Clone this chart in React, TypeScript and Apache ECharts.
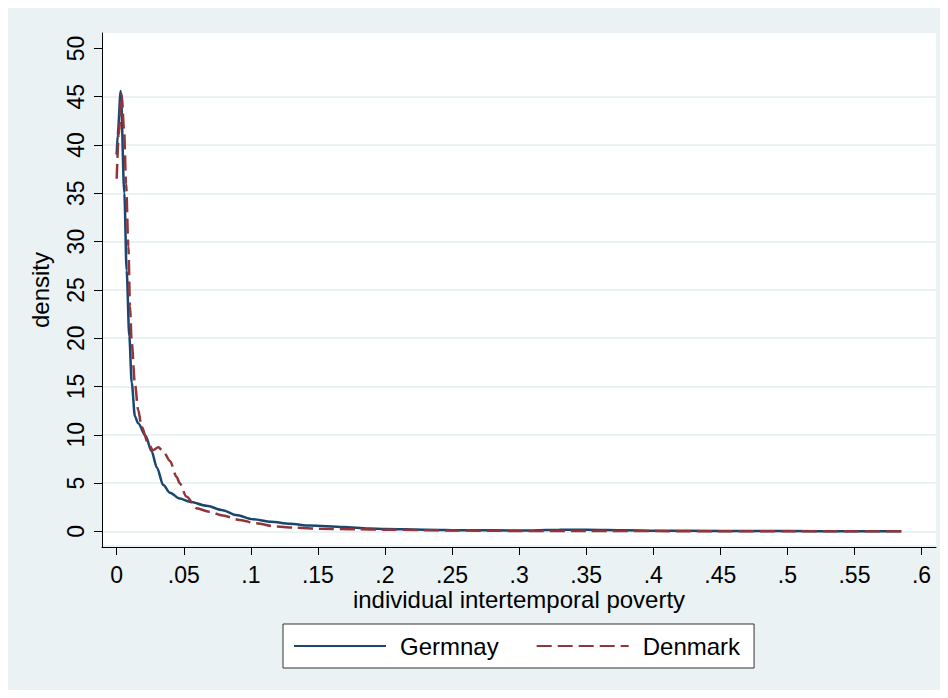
import React, { useEffect, useRef } from "react";
import * as echarts from "echarts";

const germanyX = [0, 0.0007, 0.003, 0.0057, 0.0074, 0.0094, 0.0112, 0.0136, 0.016, 0.0215, 0.026, 0.03, 0.0347, 0.0397, 0.047, 0.0545, 0.067, 0.079, 0.089, 0.1016, 0.115, 0.129, 0.144, 0.169, 0.188, 0.2, 0.23, 0.26, 0.3, 0.33, 0.35, 0.38, 0.4, 0.45, 0.5, 0.55, 0.585];
const germanyY = [39, 41, 45.6, 35, 27, 20.2, 15.4, 11.9, 11.2, 9.9, 8.3, 6.6, 4.8, 4.0, 3.4, 3.07, 2.65, 2.2, 1.7, 1.25, 1.0, 0.8, 0.6, 0.45, 0.3, 0.25, 0.18, 0.12, 0.1, 0.16, 0.17, 0.12, 0.08, 0.05, 0.03, 0.02, 0.02];

const denmarkX = [0, 0.0015, 0.0037, 0.0055, 0.007, 0.0087, 0.0099, 0.0112, 0.0136, 0.016, 0.0186, 0.0235, 0.027, 0.031, 0.0347, 0.0397, 0.0446, 0.047, 0.052, 0.0595, 0.069, 0.079, 0.0917, 0.104, 0.119, 0.134, 0.151, 0.179, 0.2, 0.25, 0.3, 0.35, 0.4, 0.45, 0.5, 0.55, 0.585];
const denmarkY = [36.5, 41, 45.3, 41.5, 36, 29.5, 23.3, 19.5, 15.3, 12.6, 10.8, 9.1, 8.4, 8.7, 8.3, 7.3, 5.66, 4.98, 3.6, 2.39, 2.04, 1.65, 1.18, 0.84, 0.5, 0.38, 0.28, 0.22, 0.18, 0.1, 0.05, 0.04, 0.03, 0.02, 0.02, 0.02, 0.02];

const xTickValues = [0, 0.05, 0.1, 0.15, 0.2, 0.25, 0.3, 0.35, 0.4, 0.45, 0.5, 0.55, 0.6];
const xTickLabels = ["0", ".05", ".1", ".15", ".2", ".25", ".3", ".35", ".4", ".45", ".5", ".55", ".6"];
const yTickValues = [0, 5, 10, 15, 20, 25, 30, 35, 40, 45, 50];
const seriesNames = ["Germnay", "Denmark"];

const FONT = "'Liberation Sans', Arial, sans-serif";
const BG = "#eaf2f3";

// plot frame (px inside the chart div)
const FRAME = { left: 94, right: 928, top: 25, bottom: 539 };
// pixel positions of the data range ends
const X0 = 108.7, X1 = 913.5; // x = 0 and x = 0.6
const Y0 = 523.4, Y1 = 40.4; // y = 0 and y = 50

export default function App() {
  const ref = useRef<HTMLDivElement>(null);
  useEffect(() => {
    if (!ref.current) return;
    const chart = echarts.init(ref.current, null, { renderer: "svg" });
    const zip = (xs: number[], ys: number[]) => xs.map((x, i) => [x, ys[i]]);
    const xs = (X1 - X0) / 0.6;
    const ys = (Y0 - Y1) / 50;
    const xMin = -(X0 - FRAME.left) / xs;
    const xMax = 0.6 + (FRAME.right - X1) / xs;
    const yMax = 50 + (Y1 - FRAME.top) / ys;
    const yMin = -(FRAME.bottom - Y0) / ys;
    const tickStyle = { color: "#000", width: 1 };
    chart.setOption({
      animation: false,
      backgroundColor: BG,
      textStyle: { fontFamily: FONT },
      graphic: [
        {
          type: "rect",
          z: -10,
          silent: true,
          shape: { x: 94, y: 25, width: 834, height: 512 },
          style: { fill: "#ffffff" },
        },
      ],
      grid: [
        {
          left: FRAME.left,
          right: 932 - FRAME.right,
          top: FRAME.top,
          bottom: 682 - FRAME.bottom,
          containLabel: false,
          outerBoundsMode: "none",
        },
        { left: 94, right: 4, top: Y1, bottom: 682 - Y0, containLabel: false, outerBoundsMode: "none" },
      ],
      xAxis: [
        {
          gridIndex: 0,
          type: "value",
          min: xMin,
          max: xMax,
          axisLine: { show: true, onZero: false, lineStyle: { color: "#000", width: 1 } },
          axisTick: { show: true, length: 8, lineStyle: tickStyle, customValues: xTickValues },
          axisLabel: {
            margin: 18,
            fontSize: 23,
            lineHeight: 20,
            color: "#000",
            fontFamily: FONT,
            customValues: xTickValues,
            formatter: (v: number) => {
              const i = xTickValues.findIndex((t) => Math.abs(t - v) < 1e-6);
              return i >= 0 ? xTickLabels[i] : "";
            },
          },
          splitLine: { show: false },
          name: "individual intertemporal poverty",
          nameLocation: "middle",
          nameGap: 42,
          nameMoveOverlap: false,
          nameTextStyle: { fontSize: 24, lineHeight: 20, color: "#000", fontFamily: FONT },
        },
        {
          gridIndex: 1,
          type: "value",
          min: 0,
          max: 1,
          show: false,
        },
      ],
      yAxis: [
        {
          gridIndex: 0,
          type: "value",
          min: yMin,
          max: yMax,
          axisLine: { show: true, onZero: false, lineStyle: { color: "#000", width: 1 } },
          axisTick: { show: true, length: 8, lineStyle: tickStyle, customValues: yTickValues },
          axisLabel: {
            rotate: 90,
            margin: 15,
            fontSize: 23,
            color: "#000",
            fontFamily: FONT,
            customValues: yTickValues,
            formatter: (v: number) => String(Math.round(v)),
          },
          splitLine: { show: false },
          name: "density",
          nameLocation: "middle",
          nameGap: 50,
          nameMoveOverlap: false,
          nameTextStyle: { fontSize: 24, color: "#000", fontFamily: FONT },
        },
        {
          gridIndex: 1,
          type: "value",
          min: 0,
          max: 50,
          interval: 5,
          axisLine: { show: false },
          axisTick: { show: false },
          axisLabel: { show: false },
          splitLine: { show: true, showMaxLine: false, lineStyle: { color: BG, width: 2 } },
        },
      ],
      legend: {
        left: 275,
        top: 616,
        orient: "horizontal",
        data: seriesNames,
        backgroundColor: "#ffffff",
        borderColor: "#333",
        borderWidth: 1,
        borderRadius: 0,
        padding: [10, 14, 10, 10],
        itemGap: 37,
        itemWidth: 92,
        itemHeight: 14,
        itemStyle: { opacity: 0, borderWidth: 0 },
        textStyle: { fontSize: 24, color: "#000", fontFamily: FONT, padding: [0, 0, 0, 9] },
      },
      series: [
        {
          name: seriesNames[0],
          type: "line",
          xAxisIndex: 0,
          yAxisIndex: 0,
          data: zip(germanyX, germanyY),
          symbol: "none",
          showSymbol: false,
          smooth: 0.3,
          smoothMonotone: "x",
          z: 3,
          lineStyle: { color: "#1a476f", width: 2.5 },
          itemStyle: { color: "#1a476f" },
        },
        {
          name: seriesNames[1],
          type: "line",
          xAxisIndex: 0,
          yAxisIndex: 0,
          data: zip(denmarkX, denmarkY),
          symbol: "none",
          showSymbol: false,
          smooth: 0.3,
          smoothMonotone: "x",
          z: 4,
          lineStyle: { color: "#90353b", width: 2.5, type: [15, 6] },
          itemStyle: { color: "#90353b" },
        },
      ],
    });
    return () => chart.dispose();
  }, []);
  return <div ref={ref} style={{ width: 932, height: 682 }} />;
}
